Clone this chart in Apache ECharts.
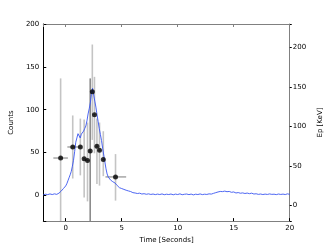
<!DOCTYPE html>
<html>
<head>
<meta charset="utf-8">
<script src="https://cdn.jsdelivr.net/npm/echarts@6/dist/echarts.min.js"></script>
<style>html,body{margin:0;padding:0;background:#fff}#c{width:332px;height:249px}</style>
</head>
<body>
<div id="c"></div>
<script>
// Light curve (counts vs time)
var lcTime = [-2.0,-1.8,-1.6,-1.4,-1.2,-1.0,-0.8,-0.6,-0.4,-0.2,
  0.0,0.1,0.2,0.3,0.4,0.5,0.6,0.7,0.8,0.9,1.0,1.1,1.2,1.3,1.4,1.5,1.6,1.7,1.8,1.9,
  2.0,2.1,2.2,2.3,2.4,2.5,2.6,2.7,2.8,2.9,3.0,3.1,3.2,3.3,3.4,3.5,3.6,3.7,3.8,3.9,
  4.0,4.2,4.4,4.6,4.8,5.0,5.2,5.4,5.6,5.8,6.0,6.2,6.4,6.6,6.8,7.0,7.2,7.4,7.6,7.8,
  8.0,8.2,8.4,8.6,8.8,9.0,9.2,9.4,9.6,9.8,10.0,10.2,10.4,10.6,10.8,11.0,11.2,11.4,11.6,11.8,
  12.0,12.2,12.4,12.6,12.8,13.0,13.2,13.4,13.6,13.8,14.0,14.2,14.4,14.6,14.8,15.0,15.2,15.4,15.6,15.8,
  16.0,16.2,16.4,16.6,16.8,17.0,17.2,17.4,17.6,17.8,18.0,18.2,18.4,18.6,18.8,19.0,19.2,19.4,19.6,19.8,20.0];
var lcCounts = [0.6,1.4,0.9,1.7,1.0,1.8,1.2,2.6,5.0,8.0,
  11.0,13.5,17.0,20.5,24.0,28.0,34.0,41.0,51.0,62.0,67.0,72.0,70.5,67.0,71.5,72.0,75.0,78.0,81.0,87.0,
  95.0,101.0,108.0,118.0,125.0,117.0,110.0,103.0,94.0,86.0,78.0,71.0,64.0,55.0,47.0,39.0,31.0,25.0,21.5,19.5,
  18.0,16.0,14.5,11.5,9.0,8.0,7.0,6.0,5.2,4.5,3.2,2.8,2.2,2.6,1.6,2.0,1.3,1.8,1.1,1.6,
  0.9,1.5,1.0,1.7,0.8,1.4,1.0,1.6,0.7,1.5,1.0,1.8,0.8,1.3,1.6,0.9,1.5,0.6,1.4,1.0,
  1.7,0.9,1.4,1.1,1.8,1.5,2.4,3.2,4.0,4.6,4.4,5.0,4.3,4.6,3.6,4.0,2.8,3.3,2.5,2.9,
  2.2,2.7,2.0,2.6,1.6,1.9,1.2,1.6,1.0,1.5,1.1,1.7,1.2,1.4,0.9,1.6,1.1,1.5,1.0,1.8,1.2];

// Ep points with error bars
var epTime  = [-0.45, 0.63, 1.31, 1.65, 1.95, 2.19, 2.38, 2.57, 2.79, 3.02, 3.36, 4.45];
var epValue = [60, 74, 74, 59, 57, 69, 144, 115, 75, 70, 58, 36];
var epHigh  = [161, 114, 110, 109, 105, 161, 204, 163, 110, 105, 94, 65];
var epLow   = [-40, 34, 38, 10, 5, -40, 83, 66, 27, 25, 37, 6];
var tStart  = [-1.1, 0.15, 1.15, 1.55, 1.85, 2.1, 2.3, 2.48, 2.69, 2.92, 3.26, 3.55];
var tEnd    = [0.2, 1.15, 1.45, 1.75, 2.05, 2.28, 2.46, 2.66, 2.89, 3.12, 3.46, 5.4];

var xTicks = [0, 5, 10, 15, 20];
var countTicks = [0, 50, 100, 150, 200];
var epTicks = [0, 50, 100, 150, 200];

var FONT = 'DejaVu Sans';
var lcData = lcTime.map(function (t, i) { return [t, lcCounts[i]]; });
var epData = epTime.map(function (t, i) { return [t, epValue[i], epLow[i], epHigh[i], tStart[i], tEnd[i], i]; });

function fmt(list) {
  return function (v) { return list.indexOf(Math.round(v * 1000) / 1000) >= 0 ? String(v) : ''; };
}

var chart = echarts.init(document.getElementById('c'), null, {renderer: 'canvas'});
chart.setOption({
  animation: false,
  grid: {left: 42, top: 24, right: 33, bottom: 25, containLabel: false},
  xAxis: [{
    type: 'value', min: -2, max: 20, splitNumber: 5, position: 'bottom',
    name: 'Time [Seconds]', nameLocation: 'middle', nameGap: 9,
    nameTextStyle: {fontFamily: FONT, fontSize: 7, color: '#000'},
    axisLine: {onZero: false, lineStyle: {color: '#808080', width: 1}},
    axisTick: {inside: true, length: 3, lineStyle: {color: '#000'}},
    axisLabel: {fontFamily: FONT, fontSize: 7, color: '#000', margin: 4, formatter: fmt(xTicks)},
    splitLine: {show: false}
  }, {
    type: 'value', min: -2, max: 20, splitNumber: 5, position: 'top',
    axisLine: {onZero: false, lineStyle: {color: '#808080', width: 1}},
    axisTick: {inside: true, length: 3, lineStyle: {color: '#808080'}},
    axisLabel: {show: false}, splitLine: {show: false}
  }],
  yAxis: [{
    type: 'value', min: -30, max: 200, splitNumber: 5, position: 'left',
    name: 'Counts', nameLocation: 'middle', nameGap: 26,
    nameTextStyle: {fontFamily: FONT, fontSize: 7, color: '#000'},
    axisLine: {show: true, onZero: false, lineStyle: {color: '#000', width: 1}},
    axisTick: {inside: true, length: 3, lineStyle: {color: '#000'}},
    axisLabel: {fontFamily: FONT, fontSize: 7, color: '#000', margin: 4, formatter: fmt(countTicks)},
    splitLine: {show: false}
  }, {
    type: 'value', min: -20, max: 230, splitNumber: 5, position: 'right',
    name: 'Ep [KeV]', nameLocation: 'middle', nameGap: 19, nameRotate: 90,
    nameTextStyle: {fontFamily: FONT, fontSize: 7, color: '#000'},
    axisLine: {show: true, onZero: false, lineStyle: {color: '#808080', width: 1}},
    axisTick: {inside: false, length: 2, lineStyle: {color: '#000'}},
    axisLabel: {fontFamily: FONT, fontSize: 7, color: '#000', margin: 3, formatter: fmt(epTicks)},
    splitLine: {show: false}
  }],
  series: [{
    type: 'custom', xAxisIndex: 0, yAxisIndex: 1, z: 1, clip: true,
    data: epData,
    renderItem: function (params, api) {
      var t = api.value(0), v = api.value(1), lo = api.value(2), hi = api.value(3);
      var t0 = api.value(4), t1 = api.value(5), idx = api.value(6);
      var pTop = api.coord([t, hi]), pBot = api.coord([t, lo]);
      var pL = api.coord([t0, v]), pR = api.coord([t1, v]);
      var cs = params.coordSys;
      var yMin = cs.y, yMax = cs.y + cs.height;
      var y1 = Math.max(yMin, Math.min(yMax, pTop[1]));
      var y2 = Math.max(yMin, Math.min(yMax, pBot[1]));
      return {type: 'group', children: [
        {type: 'line', shape: {x1: pTop[0], y1: y1, x2: pBot[0], y2: y2},
          style: {stroke: idx === 5 ? '#8c8c8c' : '#c4c4c4', lineWidth: 1.6}},
        {type: 'line', shape: {x1: pL[0], y1: pL[1], x2: pR[0], y2: pR[1]},
          style: {stroke: '#7a7a7a', lineWidth: 1}}
      ]};
    }
  }, {
    type: 'line', xAxisIndex: 0, yAxisIndex: 0, z: 2,
    data: lcData, showSymbol: false, symbol: 'none',
    lineStyle: {color: '#3a56f0', width: 0.9}
  }, {
    type: 'scatter', xAxisIndex: 0, yAxisIndex: 1, z: 3,
    data: epTime.map(function (t, i) { return [t, epValue[i]]; }),
    symbol: 'circle', symbolSize: 5,
    itemStyle: {color: '#000'}
  }]
});
</script>
</body>
</html>
